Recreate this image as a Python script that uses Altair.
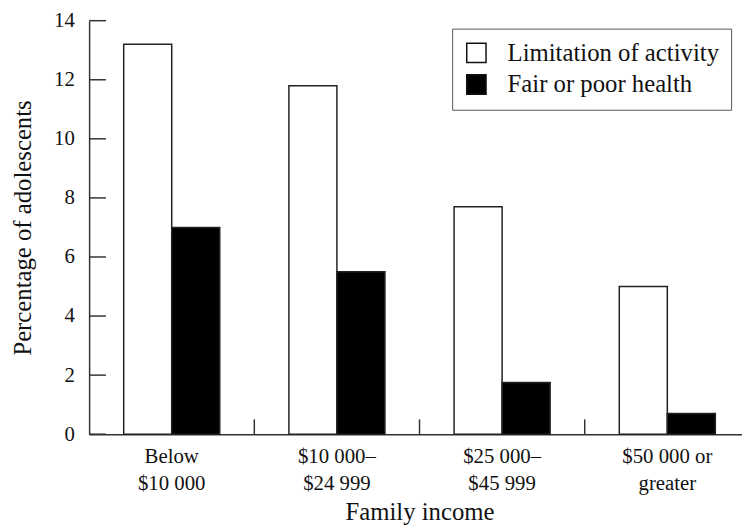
import altair as alt
import pandas as pd

income = ["Below|$10 000", "$10 000–|$24 999", "$25 000–|$45 999", "$50 000 or|greater"]
series = ["Limitation of activity", "Fair or poor health"]
limitation = [13.2, 11.8, 7.7, 5.0]
fair_poor = [7.0, 5.5, 1.75, 0.7]
y_ticks = [0, 2, 4, 6, 8, 10, 12, 14]

rows = []
for i, inc in enumerate(income):
    rows.append({"income": inc, "series": series[0], "value": limitation[i]})
    rows.append({"income": inc, "series": series[1], "value": fair_poor[i]})
df = pd.DataFrame(rows)

FONT = "Liberation Serif"
W, H = 660, 418

xscale = alt.Scale(domain=income, range=[0, 668], paddingInner=0, paddingOuter=0)
yscale = alt.Scale(domain=[0, 14], nice=False)

bars = alt.Chart(df).mark_bar(stroke="#222", strokeWidth=1.5).encode(
    x=alt.X("income:N", scale=xscale, sort=income,
            axis=alt.Axis(title="Family income", labelExpr="split(datum.label, '|')",
                          labelAngle=0, ticks=False, labelPadding=12,
                          labelLineHeight=27, titlePadding=6)),
    xOffset=alt.XOffset("series:N", sort=series,
                        scale=alt.Scale(domain=series, paddingInner=0, paddingOuter=0.72)),
    y=alt.Y("value:Q", scale=yscale,
            axis=alt.Axis(title="Percentage of adolescents", values=y_ticks, ticks=False,
                          labelPadding=15, titlePadding=18)),
    fill=alt.Fill("series:N", sort=series,
                  scale=alt.Scale(domain=series, range=["white", "black"]),
                  legend=alt.Legend(title=None, orient="none", legendX=367, legendY=8,
                                    strokeColor="#555", fillColor="white", padding=12,
                                    symbolType="square", symbolSize=380,
                                    symbolStrokeColor="#111", symbolStrokeWidth=1.5,
                                    labelFont=FONT, labelFontSize=25, labelOffset=19,
                                    labelLimit=400, rowPadding=5, labelColor="#111")),
)

ytick_df = pd.DataFrame({"v": y_ticks})
yticks = alt.Chart(ytick_df).mark_rule(color="#333", strokeWidth=1.5).encode(
    y=alt.Y("v:Q", scale=yscale),
    x=alt.value(0), x2=alt.value(17),
)

xtick_df = pd.DataFrame({"income": income[1:]})
xticks = alt.Chart(xtick_df).mark_rule(color="#333", strokeWidth=1.5).encode(
    x=alt.X("income:N", scale=xscale, sort=income, bandPosition=0),
    y=alt.value(H - 15), y2=alt.value(H),
)

chart = alt.layer(bars, yticks, xticks).properties(
    width=W, height=H,
    autosize=alt.AutoSizeParams(type="none"),
    padding={"left": 82, "top": 10, "right": 0, "bottom": 93},
    background="white",
).configure_view(stroke=None).configure_axis(
    grid=False, domainColor="#333", domainWidth=1.5,
    labelFont=FONT, labelFontSize=21, labelColor="#111",
    titleFont=FONT, titleFontSize=25, titleFontWeight="normal", titleColor="#111",
)

chart.save("out.html", embed_options={"renderer": "svg", "actions": False})
